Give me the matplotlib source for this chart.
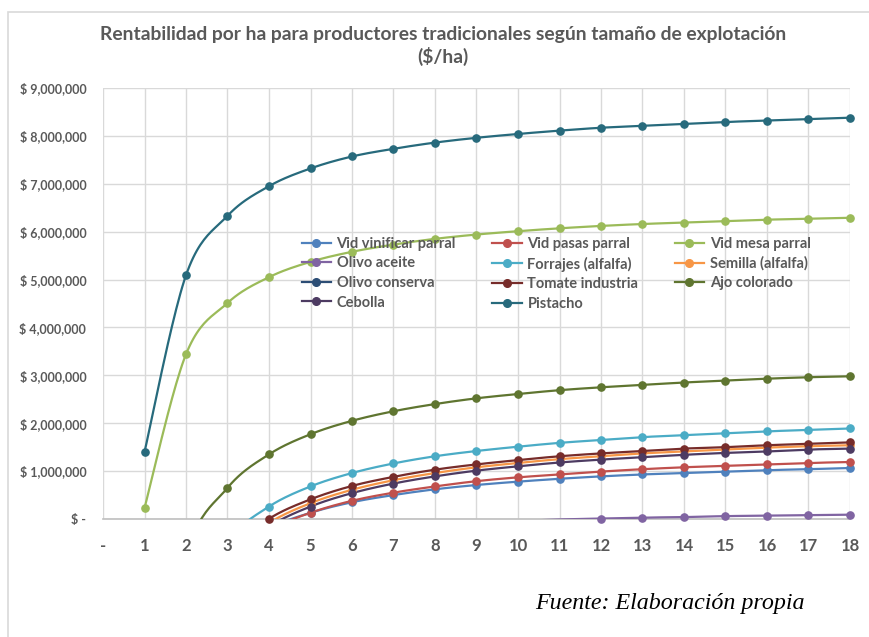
import matplotlib
matplotlib.use("Agg")
import matplotlib.pyplot as plt
import numpy as np
from matplotlib.patches import Rectangle
from matplotlib.lines import Line2D

# hectares of the farm
sizes = list(range(1, 19))

# profitability per ha ($/ha) (values below 0 are cut by the axis)
vid_vinificar = [-5050000, -1810000, -730000, -190000, 130000, 350000, 500000, 620000, 710000,
                 780000, 840000, 890000, 930000, 960000, 990000, 1020000, 1040000, 1065000]
vid_pasas = [-5730000, -2070000, -840000, -230000, 130000, 380000, 550000, 680000, 790000,
             870000, 930000, 990000, 1040000, 1080000, 1110000, 1140000, 1170000, 1190000]
vid_mesa = [230000, 3440000, 4510000, 5050000, 5370000, 5580000, 5730000, 5850000, 5940000,
            6010000, 6070000, 6120000, 6160000, 6190000, 6220000, 6250000, 6270000, 6290000]
olivo_aceite = [-2630000, -1190000, -710000, -470000, -330000, -230000, -160000, -110000, -70000,
                -40000, -10000, 10000, 30000, 40000, 60000, 70000, 80000, 90000]
forrajes = [-6010000, -1830000, -440000, 260000, 680000, 960000, 1160000, 1310000, 1420000,
            1510000, 1590000, 1650000, 1710000, 1750000, 1790000, 1830000, 1860000, 1890000]
semilla = [-6370000, -2180000, -780000, -85000, 330000, 610000, 810000, 960000, 1080000,
           1170000, 1250000, 1310000, 1370000, 1410000, 1450000, 1490000, 1520000, 1540000]
olivo_conserva = [-3600000, -2100000, -1600000, -1350000, -1200000, -1100000, -1030000, -980000,
                  -940000, -900000, -870000, -850000, -830000, -810000, -800000, -790000, -780000, -770000]
tomate = [-6130000, -2040000, -680000, 5000, 410000, 690000, 880000, 1030000, 1140000,
          1230000, 1310000, 1370000, 1420000, 1470000, 1500000, 1540000, 1570000, 1600000]
ajo = [-4940000, -750000, 650000, 1350000, 1770000, 2050000, 2250000, 2400000, 2520000,
       2610000, 2690000, 2750000, 2800000, 2850000, 2890000, 2930000, 2960000, 2980000]
cebolla = [-6470000, -2270000, -860000, -160000, 260000, 540000, 740000, 890000, 1010000,
           1100000, 1180000, 1240000, 1290000, 1340000, 1380000, 1410000, 1450000, 1470000]
pistacho = [1400000, 5090000, 6330000, 6950000, 7320000, 7570000, 7730000, 7860000, 7960000,
            8040000, 8110000, 8170000, 8210000, 8250000, 8290000, 8320000, 8350000, 8380000]

series = [
    ("Vid vinificar parral", vid_vinificar, "#4F81BD"),
    ("Vid pasas parral", vid_pasas, "#C0504D"),
    ("Vid mesa parral", vid_mesa, "#9BBB59"),
    ("Olivo aceite", olivo_aceite, "#8064A2"),
    ("Forrajes (alfalfa)", forrajes, "#4BACC6"),
    ("Semilla (alfalfa)", semilla, "#F79646"),
    ("Olivo conserva", olivo_conserva, "#2C4D75"),
    ("Tomate industria", tomate, "#772C2A"),
    ("Ajo colorado", ajo, "#5F7530"),
    ("Cebolla", cebolla, "#4D3B62"),
    ("Pistacho", pistacho, "#276A7C"),
]

TEXT = "#595959"
GRID = "#D9D9D9"


def smooth(x, y, steps=24):
    """Excel-like smoothed line: bezier segments with catmull-rom control points."""
    x = np.asarray(x, float)
    y = np.asarray(y, float)
    px = np.concatenate([[x[0]], x, [x[-1]]])
    py = np.concatenate([[y[0]], y, [y[-1]]])
    xs, ys = [], []
    t = np.linspace(0, 1, steps)
    for i in range(1, len(px) - 2):
        p0 = np.array([px[i], py[i]])
        p3 = np.array([px[i + 1], py[i + 1]])
        c1 = p0 + (np.array([px[i + 1], py[i + 1]]) - np.array([px[i - 1], py[i - 1]])) / 6
        c2 = p3 - (np.array([px[i + 2], py[i + 2]]) - np.array([px[i], py[i]])) / 6
        b = ((1 - t) ** 3)[:, None] * p0 + (3 * (1 - t) ** 2 * t)[:, None] * c1 \
            + (3 * (1 - t) * t ** 2)[:, None] * c2 + (t ** 3)[:, None] * p3
        xs.extend(b[:, 0])
        ys.extend(b[:, 1])
    return np.array(xs), np.array(ys)


plt.rcParams["font.family"] = ["Lato", "DejaVu Sans"]

fig = plt.figure(figsize=(8.69, 6.37), dpi=100)
ax = fig.add_axes([103 / 869, 1 - 519 / 637, (850 - 103) / 869, (519 - 88) / 637])

handles = []
for name, vals, color in series:
    sx, sy = smooth(sizes, vals)
    ax.plot(sx, sy, color=color, lw=1.6, solid_capstyle="round", zorder=3)
    vals = np.array(vals)
    keep = vals >= 0
    ax.plot(np.array(sizes)[keep], vals[keep], "o", color=color, ms=5.2,
            clip_on=False, zorder=4)
    handles.append(Line2D([], [], color=color, lw=1.6, marker="o", ms=5.5, label=name))

ax.set_xlim(0, 18)
ax.set_ylim(0, 9000000)
ax.set_xticks(range(0, 19))
ax.set_xticklabels(["-"] + [str(s) for s in sizes])
ax.set_yticks(np.arange(0, 9000001, 1000000))
ax.set_yticklabels(["$ -"] + ["$ {:,.0f}".format(v) for v in np.arange(1000000, 9000001, 1000000)])
ax.grid(True, color=GRID, lw=1)
ax.set_axisbelow(True)
for side in ["top", "right", "left"]:
    ax.spines[side].set_visible(False)
ax.spines["bottom"].set_color("#BFBFBF")
ax.spines["bottom"].set_linewidth(1.2)
ax.spines["bottom"].set_zorder(2.5)
ax.tick_params(length=0)
ax.tick_params(axis="x", pad=14, labelsize=12, labelcolor=TEXT)
ax.tick_params(axis="y", pad=12, labelsize=9, labelcolor=TEXT)
for lab in ax.get_xticklabels():
    lab.set_fontweight("bold")
for lab in ax.get_yticklabels():
    lab.set_fontweight("bold")

# legend laid out row by row like Excel
order = [0, 3, 6, 9, 1, 4, 7, 10, 2, 5, 8]
leg = ax.legend([handles[i] for i in order], [handles[i].get_label() for i in order],
                ncol=3, loc="upper left", bbox_to_anchor=(0.258, 0.668),
                frameon=False, fontsize=10.5, handlelength=2.0, handletextpad=0.4,
                columnspacing=2.5, labelspacing=0.38, borderaxespad=0)
for txt in leg.get_texts():
    txt.set_color(TEXT)
    txt.set_fontweight("bold")

fig.text(443 / 869, 1 - 46 / 637,
         "Rentabilidad por ha para productores tradicionales según tamaño de explotación\n($/ha)",
         ha="center", va="center", fontsize=13.9, fontweight="bold", color=TEXT, linespacing=1.3)

fig.text(670 / 869, 1 - 603 / 637, "Fuente: Elaboración propia", ha="center", va="center",
         fontsize=17.3, style="italic", family="Liberation Serif", color="black")

# chart area frame
fig.patches.append(Rectangle((8 / 869, -0.05), 1.0, 1 - 12 / 637 + 0.05, transform=fig.transFigure,
                             fill=False, edgecolor=GRID, lw=1.2))

fig.savefig("out.png", dpi=100)
